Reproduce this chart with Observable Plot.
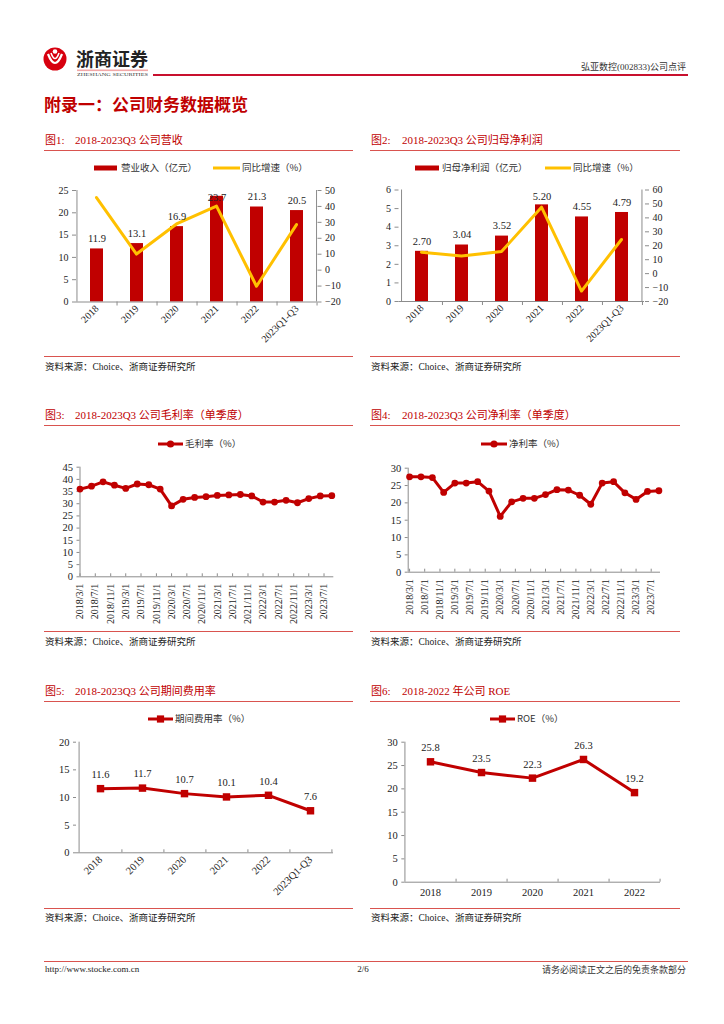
<!DOCTYPE html>
<html>
<head>
<meta charset="utf-8">
<script src="https://cdn.jsdelivr.net/npm/d3@7"></script>
<script src="https://cdn.jsdelivr.net/npm/@observablehq/plot@0.6"></script>
<style>
html,body{margin:0;padding:0;background:#fff;}
#page{position:relative;width:724px;height:1024px;overflow:hidden;background:#fff;font-family:'Liberation Serif','Noto Sans CJK SC',serif;color:#222;}
.abs{position:absolute;white-space:nowrap;}
#page svg{max-width:none !important;}
</style>
</head>
<body>
<div id="page"></div>
<script>
// ---------------- data ----------------
const years = ["2018", "2019", "2020", "2021", "2022", "2023Q1-Q3"];
const revenue = [11.9, 13.1, 16.9, 23.7, 21.3, 20.5];
const revenueYoY = [45.6, 10.1, 29.0, 40.2, -10.1, 28.6];
const netProfit = [2.70, 3.04, 3.52, 5.20, 4.55, 4.79];
const netProfitYoY = [15.4, 12.6, 15.8, 47.7, -12.5, 24.5];
const quarters = ["2018-03","2018-06","2018-09","2018-12","2019-03","2019-06","2019-09","2019-12",
  "2020-03","2020-06","2020-09","2020-12","2021-03","2021-06","2021-09","2021-12",
  "2022-03","2022-06","2022-09","2022-12","2023-03","2023-06","2023-09"];
const grossMargin = [36.0, 37.2, 39.0, 37.6, 36.3, 38.1, 37.8, 36.0, 29.1, 31.8, 32.6, 32.9,
  33.4, 33.6, 33.8, 33.2, 30.7, 30.7, 31.4, 30.4, 32.1, 33.2, 33.3];
const netMargin = [27.5, 27.5, 27.3, 23.0, 25.7, 25.7, 26.1, 23.4, 16.1, 20.3, 21.3, 21.3,
  22.4, 23.8, 23.7, 22.2, 19.6, 25.7, 26.1, 22.9, 21.0, 23.3, 23.5];
const expenseRatio = [11.6, 11.7, 10.7, 10.1, 10.4, 7.6];
const roeYears = ["2018", "2019", "2020", "2021", "2022"];
const roe = [25.8, 23.5, 22.3, 26.3, 19.2];
const revTicks = [0, 5, 10, 15, 20, 25];
const revYoYTicks = [-20, -10, 0, 10, 20, 30, 40, 50];
const npTicks = [0, 1, 2, 3, 4, 5, 6];
const npYoYTicks = [-20, -10, 0, 10, 20, 30, 40, 50, 60];
const gmTicks = [0, 5, 10, 15, 20, 25, 30, 35, 40, 45];
const nmTicks = [0, 5, 10, 15, 20, 25, 30];
const expTicks = [0, 5, 10, 15, 20];
const roeTicks = [0, 5, 10, 15, 20, 25, 30];

// ---------------- helpers ----------------
const page = document.getElementById("page");
const RED = "#c00000", YEL = "#ffc000", AX = "#8c8c8c", SEP = "#d9534f", TITLE = "#c00000";
const SERIF = "'Liberation Serif','Noto Sans CJK SC',serif";
const CJK = "'Noto Sans CJK SC','Liberation Serif',sans-serif";

function addText(str, x, yc, o = {}) {
  const d = document.createElement("div");
  d.className = "abs";
  d.textContent = str;
  const size = o.size || 10;
  d.style.fontSize = size + "px";
  d.style.lineHeight = size + "px";
  d.style.top = (yc - size / 2) + "px";
  if (o.anchor === "end") d.style.right = (724 - x) + "px";
  else if (o.anchor === "middle") { d.style.left = x + "px"; d.style.transform = "translateX(-50%)"; }
  else d.style.left = x + "px";
  d.style.color = o.color || "#222";
  if (o.weight) d.style.fontWeight = o.weight;
  d.style.fontFamily = o.family || SERIF;
  page.appendChild(d);
  return d;
}
function hline(x0, x1, y, color, w = 1) {
  const d = document.createElement("div");
  d.className = "abs";
  Object.assign(d.style, {left: x0 + "px", top: (y - w / 2) + "px", width: (x1 - x0) + "px", height: w + "px", background: color});
  page.appendChild(d);
}
function place(node, left, top) {
  node.style.position = "absolute";
  node.style.left = left + "px";
  node.style.top = top + "px";
  node.style.maxWidth = "none";
  page.appendChild(node);
}
function legendSwatch(kind, x0, x1, yc, color) {
  const w = x1 - x0;
  const svg = d3.create("svg").attr("width", w + 10).attr("height", 14)
    .style("position", "absolute").style("left", (x0 - 5) + "px").style("top", (yc - 7) + "px").style("overflow", "visible");
  if (kind === "rect") svg.append("rect").attr("x", 5).attr("y", 4.5).attr("width", w).attr("height", 5).attr("fill", color);
  else {
    svg.append("line").attr("x1", 5).attr("x2", w + 5).attr("y1", 7).attr("y2", 7).attr("stroke", color).attr("stroke-width", 3);
    const cx = w / 2 + 5;
    if (kind === "dot") svg.append("circle").attr("cx", cx).attr("cy", 7).attr("r", 3.6).attr("fill", color);
    if (kind === "square") svg.append("rect").attr("x", cx - 3.6).attr("y", 3.4).attr("width", 7.2).attr("height", 7.2).attr("fill", color);
  }
  page.appendChild(svg.node());
}
function legendText(str, x, yc) { addText(str, x, yc, {size: 9.5, color: "#333", family: CJK}); }
function dims(frame, box) {
  return {width: box.w, height: box.h,
    marginLeft: frame.x0 - box.x, marginRight: box.x + box.w - frame.x1,
    marginTop: frame.y0 - box.y, marginBottom: box.y + box.h - frame.y1};
}
const baseStyle = {background: "transparent", fontFamily: SERIF, fontSize: "10px", color: "#222", overflow: "visible"};

function section(colX, colX1, titleY, num, title, titleX2, bottomY) {
  addText("图" + num + ":", colX + 1, titleY, {size: 11, color: TITLE});
  addText(title, titleX2, titleY, {size: 11, color: TITLE});
  hline(colX, colX1, titleY + 10, SEP, 1);
  hline(colX, colX1, bottomY, SEP, 1);
  addText("资料来源：Choice、浙商证券研究所", colX + 1, bottomY + 11, {size: 9.5, color: "#222"});
}

// ---------------- header ----------------
(function header() {
  const svg = d3.create("svg").attr("width", 120).attr("height", 40)
    .style("position", "absolute").style("left", "40px").style("top", "42px").style("overflow", "visible");
  svg.append("circle").attr("cx", 15).attr("cy", 17).attr("r", 11.5).attr("fill", "#d7000f");
  svg.append("path").attr("d", "M8,12 Q15,30 22,12").attr("fill", "none").attr("stroke", "#fff").attr("stroke-width", 2.2);
  svg.append("path").attr("d", "M11,11 Q15,22 19,11").attr("fill", "none").attr("stroke", "#fff").attr("stroke-width", 1.6);
  svg.append("circle").attr("cx", 15).attr("cy", 9.5).attr("r", 2.3).attr("fill", "#fff");
  svg.append("rect").attr("x", 37).attr("y", 27.5).attr("width", 71).attr("height", 1.6).attr("fill", "#f2a7a7");
  svg.append("text").attr("x", 37).attr("y", 33.5).attr("textLength", 71).attr("lengthAdjust", "spacingAndGlyphs")
    .attr("font-size", 5).attr("font-family", SERIF).attr("fill", "#333").text("ZHESHANG SECURITIES");
  page.appendChild(svg.node());
  addText("浙商证券", 76, 58, {size: 18, weight: 700, color: "#222", family: CJK});
  addText("弘亚数控(002833)公司点评", 686, 67, {size: 9, anchor: "end", color: "#333"});
  hline(153, 688, 75, "#c8102e", 1.5);
  addText("附录一：公司财务数据概览", 44, 103, {size: 17, weight: 700, color: TITLE, family: CJK});
})();

// ---------------- sections ----------------
section(44, 353, 140, 1, "2018-2023Q3 公司营收", 75, 356.5);
section(370, 680, 140, 2, "2018-2023Q3 公司归母净利润", 402, 356.5);
section(44, 353, 415, 3, "2018-2023Q3 公司毛利率（单季度）", 75, 631.5);
section(370, 680, 415, 4, "2018-2023Q3 公司净利率（单季度）", 402, 631.5);
section(44, 353, 691, 5, "2018-2023Q3 公司期间费用率", 75, 908);
section(370, 680, 691, 6, "2018-2022 年公司 ROE", 402, 908);

// ---------------- bar + line charts ----------------
function barLine(box, frame, cats, bars, lines, yL, yLTicks, yR, yRTicks, fmt) {
  const rows = cats.map((c, i) => ({cat: c, bar: bars[i], line: lines[i]}));
  const n = cats.length, step = (frame.x1 - frame.x0) / n;
  const H = frame.y1 - frame.y0;
  const fits = d => (d.bar - yL[0]) / (yL[1] - yL[0]) * H + 16 <= H;
  const d1 = dims(frame, box);
  const xBand = {type: "band", domain: cats, paddingInner: 0.67, paddingOuter: 0.335};
  const p1 = Plot.plot({
    ...d1, style: baseStyle,
    x: xBand,
    y: {domain: yL},
    marks: [
      Plot.barY(rows, {x: "cat", y: "bar", fill: RED}),
      Plot.ruleX(cats, {x: d => d, dx: step / 2, y1: yL[0], y2: yL[0], insetBottom: -4, stroke: AX}),
      Plot.ruleX([cats[0]], {x: d => d, dx: -step / 2, stroke: AX}),
      Plot.ruleY([yL[0]], {stroke: AX}),
      Plot.axisY(yLTicks, {tickSize: 4, tickPadding: 4, stroke: AX, label: null}),
      Plot.axisX({tickRotate: -45, tickSize: 0, tickPadding: 5, stroke: AX, label: null})
    ]
  });
  const p2 = Plot.plot({
    ...d1, style: baseStyle,
    x: {type: "point", domain: cats, padding: 0.5, axis: null},
    y: {domain: yR, axis: null},
    marks: [
      Plot.lineY(rows, {x: "cat", y: "line", stroke: YEL, strokeWidth: 3, strokeLinejoin: "round"}),
      Plot.ruleX([cats[n - 1]], {x: d => d, dx: step / 2, stroke: AX}),
      Plot.axisY(yRTicks, {anchor: "right", tickSize: 4, tickPadding: 4, stroke: AX, label: null})
    ]
  });
  const p3 = Plot.plot({
    ...d1, style: baseStyle,
    x: {...xBand, axis: null},
    y: {domain: yL, axis: null},
    marks: [
      Plot.text(rows.filter(fits), {x: "cat", y: "bar", text: d => fmt(d.bar), dy: -10, fontSize: 10.5}),
      Plot.text(rows.filter(d => !fits(d)), {x: "cat", frameAnchor: "top", text: d => fmt(d.bar), dy: 3, fontSize: 10.5})
    ]
  });
  place(p1, box.x, box.y);
  place(p2, box.x, box.y);
  place(p3, box.x, box.y);
}

barLine({x: 44, y: 180, w: 310, h: 170}, {x0: 76, x1: 316.5, y0: 190, y1: 301.5},
  years, revenue, revenueYoY, [0, 25], revTicks, [-20, 50], revYoYTicks, v => v.toFixed(1));
legendSwatch("rect", 94, 117, 168, RED); legendText("营业收入（亿元）", 121, 168);
legendSwatch("line", 213, 240, 168, YEL); legendText("同比增速（%）", 242, 168);

barLine({x: 370, y: 180, w: 310, h: 170}, {x0: 398.5, x1: 644, y0: 189.5, y1: 301},
  years, netProfit, netProfitYoY, [0, 6], npTicks, [-20, 60], npYoYTicks, v => v.toFixed(2));
legendSwatch("rect", 415, 439, 168, RED); legendText("归母净利润（亿元）", 442, 168);
legendSwatch("line", 545, 571, 168, YEL); legendText("同比增速（%）", 573, 168);

// ---------------- quarterly line charts ----------------
const parseQ = d3.utcParse("%Y-%m");
const qDates = quarters.map(parseQ);
const dateTicks = d3.utcMonth.range(new Date(Date.UTC(2018, 2, 1)), new Date(Date.UTC(2023, 6, 2)), 4);
const fmtDate = d3.utcFormat("%Y/%-m/%-d");

function quarterly(box, frame, domain, values, yDom, yTicks) {
  const rows = qDates.map((d, i) => ({date: d, v: values[i]}));
  const p = Plot.plot({
    ...dims(frame, box), style: baseStyle,
    x: {type: "utc", domain},
    y: {domain: yDom},
    marks: [
      Plot.ruleX(dateTicks, {x: d => d, y1: 0, y2: 0, insetTop: -3, stroke: AX}),
      Plot.ruleX([domain[0]], {x: d => d, stroke: AX}),
      Plot.ruleY([yDom[0]], {stroke: AX}),
      Plot.axisY(yTicks, {tickSize: 3, tickPadding: 4, stroke: AX, label: null, fontSize: 10.5}),
      Plot.axisX(dateTicks, {tickFormat: fmtDate, tickRotate: -90, tickSize: 0, tickPadding: 7, stroke: AX, label: null, fontSize: 10}),
      Plot.lineY(rows, {x: "date", y: "v", stroke: RED, strokeWidth: 3, strokeLinejoin: "round"}),
      Plot.dot(rows, {x: "date", y: "v", r: 3.4, fill: RED})
    ]
  });
  place(p, box.x, box.y);
}
quarterly({x: 44, y: 455, w: 310, h: 175}, {x0: 79.5, x1: 333.3, y0: 466.7, y1: 576.3},
  [new Date(Date.UTC(2018, 2, 1)), new Date(Date.UTC(2023, 8, 17))], grossMargin, [0, 45], gmTicks);
legendSwatch("dot", 158, 183, 444, RED); legendText("毛利率（%）", 185, 444);

quarterly({x: 370, y: 455, w: 310, h: 175}, {x0: 407.7, x1: 660, y0: 467.7, y1: 571.7},
  [new Date(Date.UTC(2018, 1, 18)), new Date(Date.UTC(2023, 8, 14))], netMargin, [0, 30], nmTicks);
legendSwatch("dot", 481, 507, 444, RED); legendText("净利率（%）", 509, 444);

// ---------------- annual line charts ----------------
function annual(box, frame, cats, values, yDom, yTicks, rotate) {
  const rows = cats.map((c, i) => ({cat: c, v: values[i]}));
  const step = (frame.x1 - frame.x0) / cats.length;
  const p = Plot.plot({
    ...dims(frame, box), style: baseStyle,
    x: {type: "point", domain: cats, padding: 0.5},
    y: {domain: yDom},
    marks: [
      Plot.ruleX(cats, {x: d => d, dx: step / 2, y1: 0, y2: 0, insetTop: -3, stroke: AX}),
      Plot.ruleX([cats[0]], {x: d => d, dx: -step / 2, stroke: AX}),
      Plot.ruleY([yDom[0]], {stroke: AX}),
      Plot.axisY(yTicks, {tickSize: 3, tickPadding: 4, stroke: AX, label: null, fontSize: 10.5}),
      Plot.axisX({tickRotate: rotate, tickSize: 0, tickPadding: rotate ? 5 : 6, stroke: AX, label: null, fontSize: 10.5}),
      Plot.lineY(rows, {x: "cat", y: "v", stroke: RED, strokeWidth: 3, strokeLinejoin: "round"}),
      Plot.dot(rows, {x: "cat", y: "v", symbol: "square", r: 4.2, fill: RED}),
      Plot.text(rows, {x: "cat", y: "v", text: d => d.v.toFixed(1), dy: -14, fontSize: 10.5})
    ]
  });
  place(p, box.x, box.y);
}
annual({x: 44, y: 730, w: 310, h: 175}, {x0: 76, x1: 333, y0: 741.7, y1: 852.3},
  years, expenseRatio, [0, 20], expTicks, -45);
legendSwatch("square", 148, 173, 719, RED); legendText("期间费用率（%）", 175, 719);

annual({x: 370, y: 730, w: 310, h: 175}, {x0: 404.3, x1: 660, y0: 741.7, y1: 881.7},
  roeYears, roe, [0, 30], roeTicks, 0);
legendSwatch("square", 490, 515, 719, RED); legendText("ROE（%）", 517, 719);

// ---------------- footer ----------------
hline(44, 688, 961, SEP, 1);
addText("http://www.stocke.com.cn", 45, 969, {size: 9, color: "#222"});
addText("2/6", 363, 969, {size: 9, anchor: "middle", color: "#222"});
addText("请务必阅读正文之后的免责条款部分", 686, 969, {size: 9, anchor: "end", color: "#333", family: CJK});
</script>
</body>
</html>
